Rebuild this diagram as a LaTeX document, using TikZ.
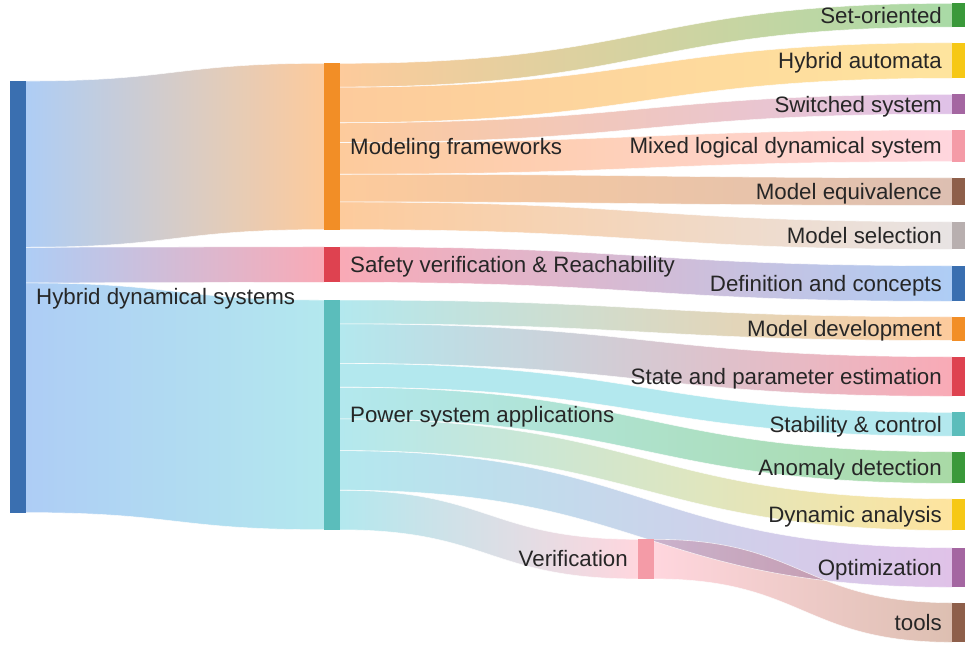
\documentclass[tikz,border=0pt]{standalone}
\usepackage{fontspec}
\setmainfont{Liberation Sans}
\usetikzlibrary{calc}
\pgfdeclarelayer{bg}
\pgfsetlayers{bg,main}
% node colours
\definecolor{cblue}{HTML}{3A6FB0}
\definecolor{corange}{HTML}{F28E26}
\definecolor{cred}{HTML}{DE4250}
\definecolor{cteal}{HTML}{5BBDBB}
\definecolor{cgreen}{HTML}{3A993A}
\definecolor{cyellow}{HTML}{F6C816}
\definecolor{cpurple}{HTML}{A466A1}
\definecolor{cpink}{HTML}{F49BA7}
\definecolor{cbrown}{HTML}{8E5F4A}
\definecolor{cgrey}{HTML}{B8AFAF}
% link colours
\definecolor{lblue}{HTML}{AECDF5}
\definecolor{lorange}{HTML}{FDCB9C}
\definecolor{lred}{HTML}{F9AAB6}
\definecolor{lteal}{HTML}{B3E8EE}
\definecolor{lgreen}{HTML}{A9DAA6}
\definecolor{lyellow}{HTML}{FEE49E}
\definecolor{lpurple}{HTML}{E0C2E8}
\definecolor{lpink}{HTML}{FFD6DE}
\definecolor{lbrown}{HTML}{DDBFB1}
\definecolor{lgrey}{HTML}{E8E3E3}
\definecolor{txt}{HTML}{262626}
\tikzset{
  nd/.style={rectangle, inner sep=0pt, outer sep=0pt, draw=none, minimum width=16pt, anchor=north west},
  lbl/.style={font=\fontsize{22.3}{26}\selectfont, text=txt, inner sep=0pt},
  bandline/.style={draw=white, line width=0.6pt, draw opacity=0.75}
}
\newcommand\bandfill[7]{%
  \shade[left color=#6, right color=#7] let \p1=(#1.north east), \p2=(#3.north west), \p3=($(\p1)!0.5!(\p2)$) in
   (\x1,\y1-#2pt) .. controls (\x3,\y1-#2pt) and (\x3,\y2-#4pt) .. (\x2,\y2-#4pt)
   -- (\x2,\y2-#4pt-#5pt) .. controls (\x3,\y2-#4pt-#5pt) and (\x3,\y1-#2pt-#5pt) .. (\x1,\y1-#2pt-#5pt) -- cycle;}
\newcommand\bandedge[7]{%
  \draw[bandline] let \p1=(#1.north east), \p2=(#3.north west), \p3=($(\p1)!0.5!(\p2)$) in
   (\x1,\y1-#2pt) .. controls (\x3,\y1-#2pt) and (\x3,\y2-#4pt) .. (\x2,\y2-#4pt)
   (\x2,\y2-#4pt-#5pt) .. controls (\x3,\y2-#4pt-#5pt) and (\x3,\y1-#2pt-#5pt) .. (\x1,\y1-#2pt-#5pt);}
\newcommand\allbands[1]{%
  #1{hds}{0}{mod}{0}{166.3}{lblue}{lorange}%
  #1{hds}{166.3}{saf}{0}{35.6}{lblue}{lred}%
  #1{hds}{201.9}{pow}{0}{229.7}{lblue}{lteal}%
  #1{mod}{0}{set}{0}{23.8}{lorange}{lgreen}%
  #1{mod}{23.8}{ha}{0}{35.6}{lorange}{lyellow}%
  #1{mod}{59.4}{sw}{0}{19.8}{lorange}{lpurple}%
  #1{mod}{79.2}{mix}{0}{31.7}{lorange}{lpink}%
  #1{mod}{110.9}{meq}{0}{27.7}{lorange}{lbrown}%
  #1{mod}{138.6}{msel}{0}{27.7}{lorange}{lgrey}%
  #1{saf}{0}{def}{0}{35.6}{lred}{lblue}%
  #1{pow}{0}{mdev}{0}{23.8}{lteal}{lorange}%
  #1{pow}{23.8}{st}{0}{39.6}{lteal}{lred}%
  #1{pow}{63.4}{stab}{0}{23.8}{lteal}{lteal}%
  #1{pow}{87.2}{ano}{0}{31.7}{lteal}{lgreen}%
  #1{pow}{118.9}{dyn}{0}{31.7}{lteal}{lyellow}%
  #1{pow}{150.6}{opt}{0}{39.6}{lteal}{lpurple}%
  #1{pow}{190.2}{ver}{0}{39.6}{lteal}{lpink}%
  #1{ver}{0}{tools}{0}{39.6}{lpink}{lbrown}%
}
\begin{document}
\begin{tikzpicture}[x=1pt,y=-1pt]
\useasboundingbox (0,0) rectangle (965,646);
% nodes
\node[nd, fill=cblue,   minimum height=431.6pt] (hds)   at (10,81) {};
\node[nd, fill=corange, minimum height=166.3pt] (mod)   at (324,63.3) {};
\node[nd, fill=cred,    minimum height=35.6pt]  (saf)   at (324,246.7) {};
\node[nd, fill=cteal,   minimum height=229.7pt] (pow)   at (324,300) {};
\node[nd, fill=cpink,   minimum height=39.6pt]  (ver)   at (638,539.3) {};
\node[nd, fill=cgreen,  minimum height=23.8pt]  (set)   at (952,3.3) {};
\node[nd, fill=cyellow, minimum height=35.6pt]  (ha)    at (952,42.7) {};
\node[nd, fill=cpurple, minimum height=19.8pt]  (sw)    at (952,94.3) {};
\node[nd, fill=cpink,   minimum height=31.7pt]  (mix)   at (952,130) {};
\node[nd, fill=cbrown,  minimum height=27.7pt]  (meq)   at (952,177.7) {};
\node[nd, fill=cgrey,   minimum height=27.7pt]  (msel)  at (952,221.7) {};
\node[nd, fill=cblue,   minimum height=35.6pt]  (def)   at (952,265.7) {};
\node[nd, fill=corange, minimum height=23.8pt]  (mdev)  at (952,316.7) {};
\node[nd, fill=cred,    minimum height=39.6pt]  (st)    at (952,356.7) {};
\node[nd, fill=cteal,   minimum height=23.8pt]  (stab)  at (952,412.3) {};
\node[nd, fill=cgreen,  minimum height=31.7pt]  (ano)   at (952,451.7) {};
\node[nd, fill=cyellow, minimum height=31.7pt]  (dyn)   at (952,498.7) {};
\node[nd, fill=cpurple, minimum height=39.6pt]  (opt)   at (952,547.7) {};
\node[nd, fill=cbrown,  minimum height=39.6pt]  (tools) at (952,602.7) {};
% bands
\begin{pgfonlayer}{bg}
  \fill[white] (0,0) rectangle (965,646);
  \begin{scope}[blend mode=multiply]
    \allbands\bandfill
  \end{scope}
  \allbands\bandedge
\end{pgfonlayer}
% labels
\node[lbl, anchor=base west] (thds) at ([xshift=10pt,yshift=-7.8pt]hds.east) {Hybrid dynamical systems};
\node[lbl, anchor=base west] (tmod) at ([xshift=10pt,yshift=-7.8pt]mod.east) {Modeling frameworks};
\node[lbl, anchor=base west] (tsaf) at ([xshift=10pt,yshift=-7.8pt]saf.east) {Safety verification \& Reachability};
\node[lbl, anchor=base west] (tpow) at ([xshift=10pt,yshift=-7.8pt]pow.east) {Power system applications};
\node[lbl, anchor=base east] (tver) at ([xshift=-10pt,yshift=-7.8pt]ver.west) {Verification};
\node[lbl, anchor=base east] (tset) at ([xshift=-10pt,yshift=-7.8pt]set.west) {Set-oriented};
\node[lbl, anchor=base east] (tha) at ([xshift=-10pt,yshift=-7.8pt]ha.west) {Hybrid automata};
\node[lbl, anchor=base east] (tsw) at ([xshift=-10pt,yshift=-7.8pt]sw.west) {Switched system};
\node[lbl, anchor=base east] (tmix) at ([xshift=-10pt,yshift=-7.8pt]mix.west) {Mixed logical dynamical system};
\node[lbl, anchor=base east] (tmeq) at ([xshift=-10pt,yshift=-7.8pt]meq.west) {Model equivalence};
\node[lbl, anchor=base east] (tmsel) at ([xshift=-10pt,yshift=-7.8pt]msel.west) {Model selection};
\node[lbl, anchor=base east] (tdef) at ([xshift=-10pt,yshift=-7.8pt]def.west) {Definition and concepts};
\node[lbl, anchor=base east] (tmdev) at ([xshift=-10pt,yshift=-7.8pt]mdev.west) {Model development};
\node[lbl, anchor=base east] (tst) at ([xshift=-10pt,yshift=-7.8pt]st.west) {State and parameter estimation};
\node[lbl, anchor=base east] (tstab) at ([xshift=-10pt,yshift=-7.8pt]stab.west) {Stability \& control};
\node[lbl, anchor=base east] (tano) at ([xshift=-10pt,yshift=-7.8pt]ano.west) {Anomaly detection};
\node[lbl, anchor=base east] (tdyn) at ([xshift=-10pt,yshift=-7.8pt]dyn.west) {Dynamic analysis};
\node[lbl, anchor=base east] (topt) at ([xshift=-10pt,yshift=-7.8pt]opt.west) {Optimization};
\node[lbl, anchor=base east] (ttools) at ([xshift=-10pt,yshift=-7.8pt]tools.west) {tools};
\end{tikzpicture}
\end{document}
